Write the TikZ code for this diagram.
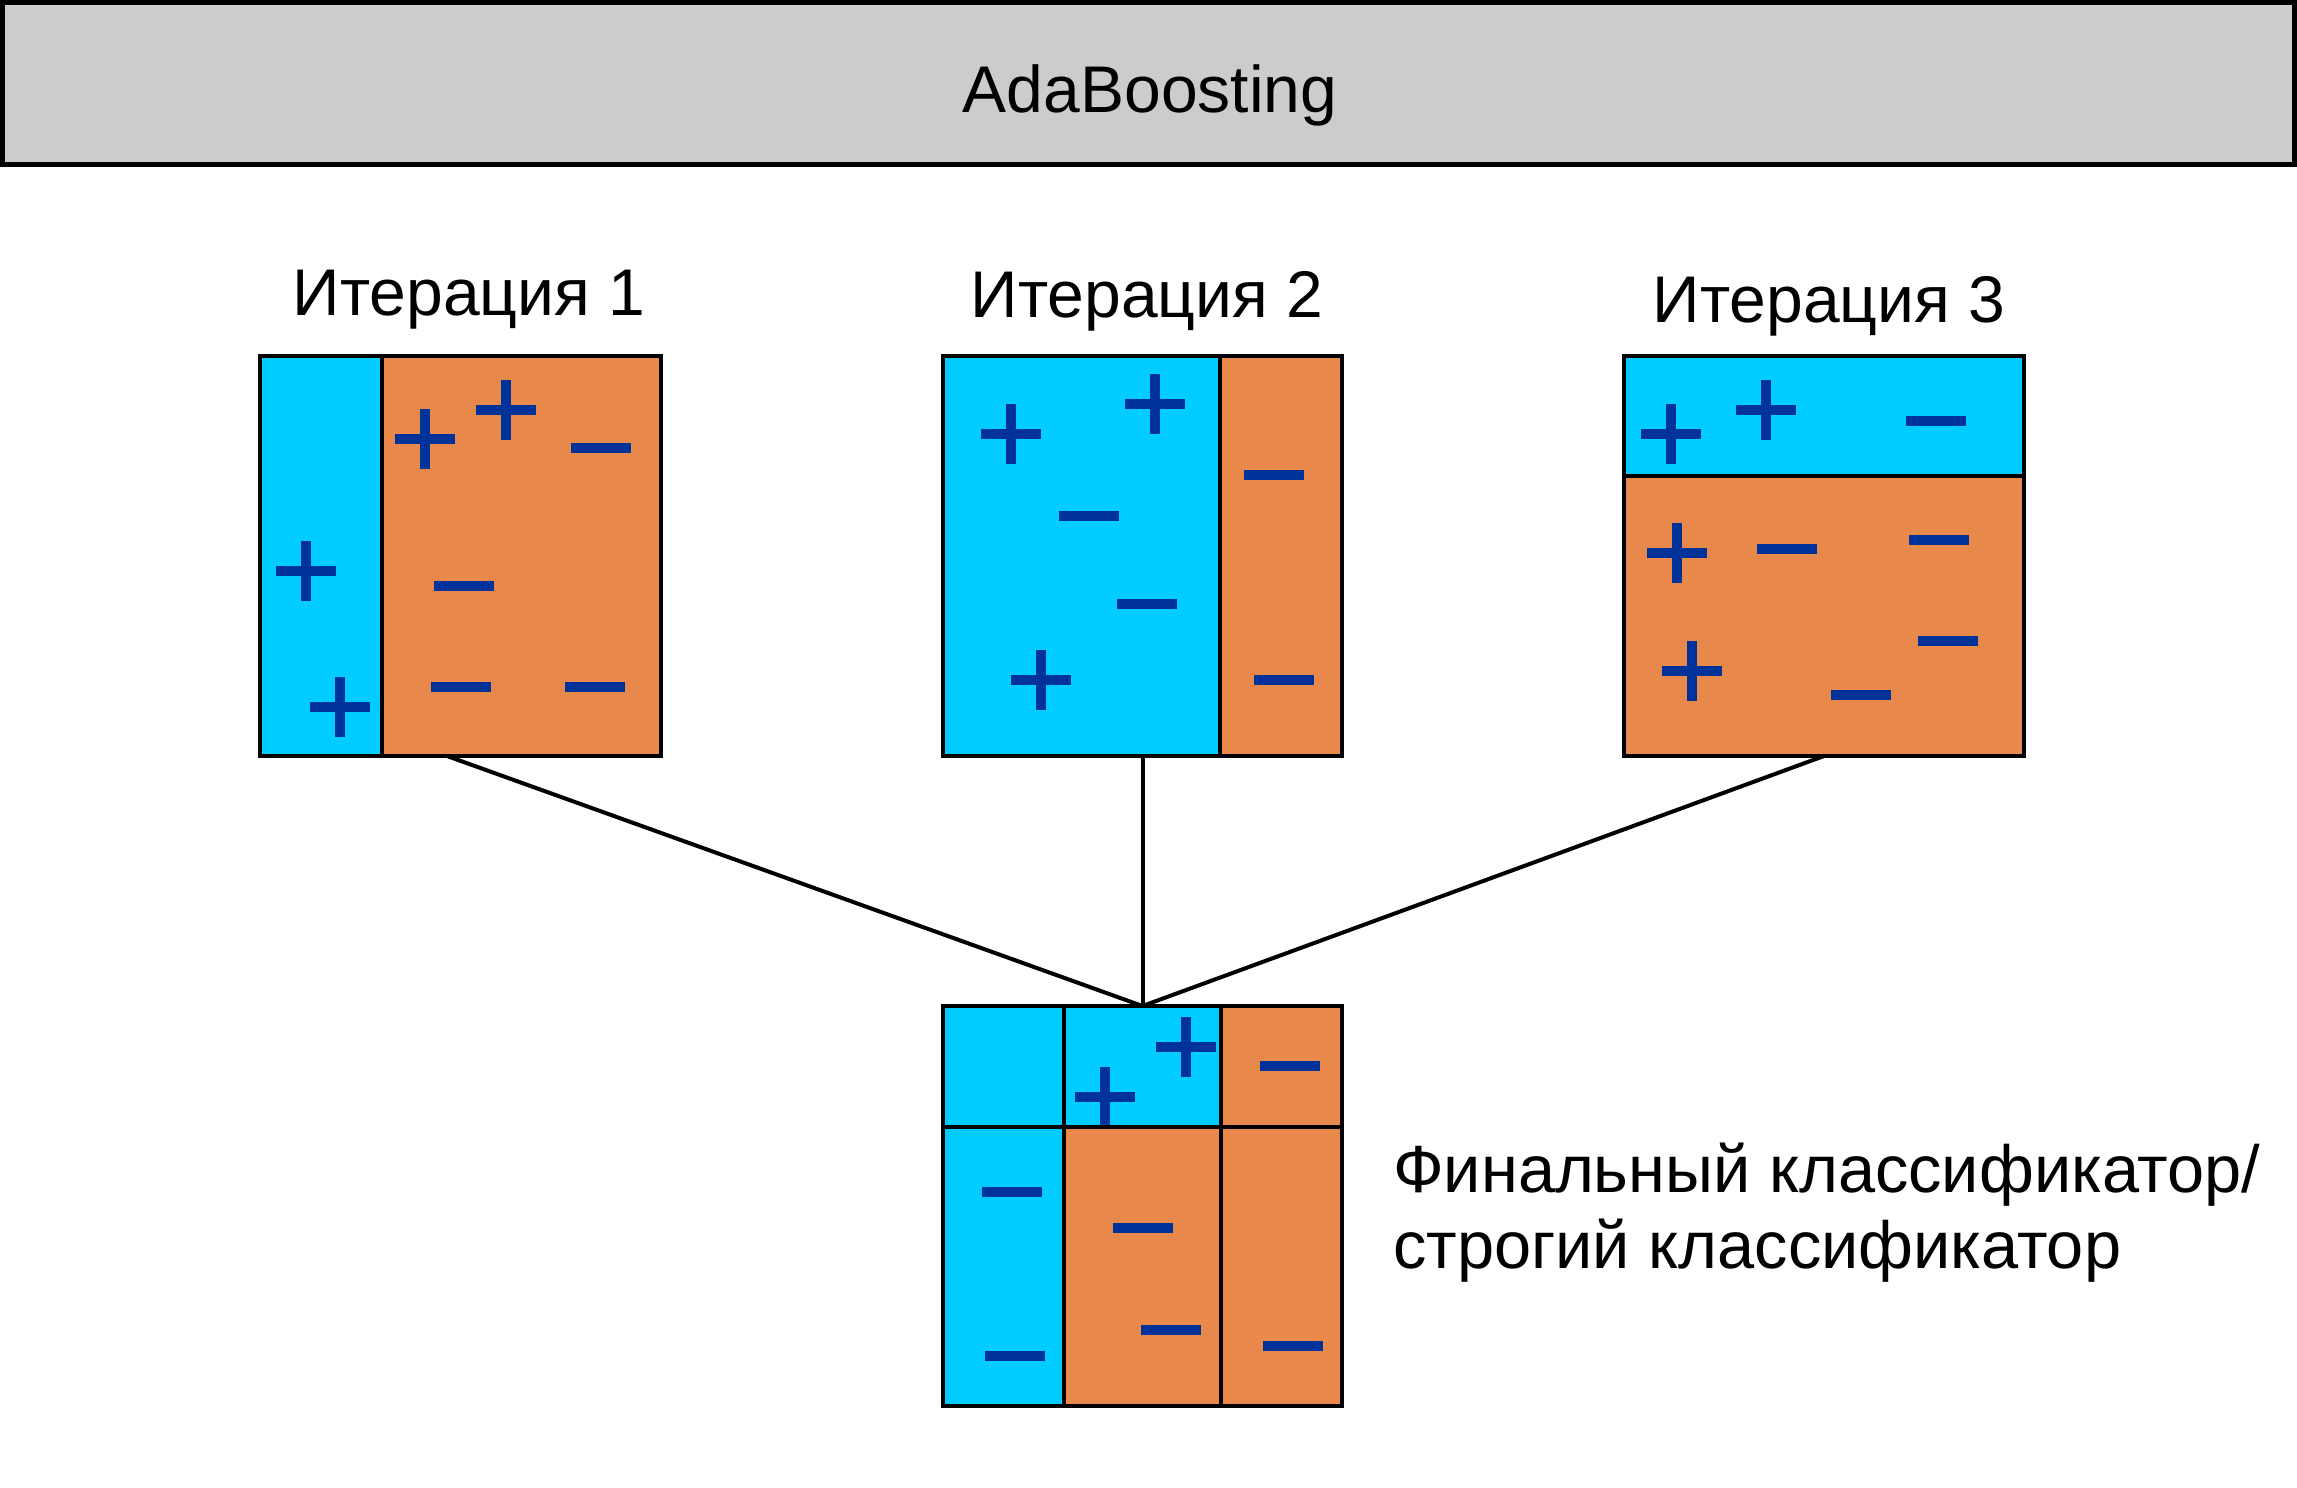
\documentclass[tikz,border=0pt]{standalone}
\usepackage{fontspec}
\setmainfont{Liberation Sans}
\definecolor{cyanf}{HTML}{00CCFF}
\definecolor{orangef}{HTML}{E8884A}
\definecolor{signblue}{HTML}{003399}
\definecolor{titlegray}{HTML}{CCCCCC}
\tikzset{
  frame/.style={draw=black, line width=4.5pt, inner sep=0pt, outer sep=0pt, fill=none},
  divider/.style={draw=black, line width=4.5pt},
  conn/.style={draw=black, line width=4pt},
  lbl/.style={inner sep=0pt, font=\fontsize{66}{79}\selectfont},
  biglbl/.style={inner sep=0pt, font=\fontsize{66.7}{79}\selectfont},
  psign/.pic={\fill[signblue] (-30,-5) rectangle (30,5); \fill[signblue] (-5,-30) rectangle (5,30);},
  msign/.pic={\fill[signblue] (-30,-5) rectangle (30,5);}
}
\begin{document}
\begin{tikzpicture}[x=1pt,y=-1pt]
\useasboundingbox (0,0) rectangle (2297,1488);
% title
\node[frame, fill=titlegray, line width=5pt, minimum width=2291.5pt, minimum height=162pt] (title) at (1148.25,83.5) {};
\node[lbl, anchor=base] (ttl) at (1150,112) {AdaBoosting};

% iteration labels
\node[lbl, anchor=base] (l1) at (469,315) {Итерация 1};
\node[lbl, anchor=base] (l2) at (1147,317) {Итерация 2};
\node[lbl, anchor=base] (l3) at (1829,322) {Итерация 3};

% box 1
\fill[cyanf] (260,356) rectangle (382,756);
\fill[orangef] (382,356) rectangle (661,756);
\draw[divider] (382,356) -- (382,756);
\node[frame, minimum width=401pt, minimum height=400pt] (it1) at (460.5,556) {};
\pic at (425,439) {psign};
\pic at (506,410) {psign};
\pic at (601,448) {msign};
\pic at (306,571) {psign};
\pic at (464,586) {msign};
\pic at (340,707) {psign};
\pic at (461,687) {msign};
\pic at (595,687) {msign};

% box 2
\fill[cyanf] (943,356) rectangle (1220,756);
\fill[orangef] (1220,356) rectangle (1342,756);
\draw[divider] (1220,356) -- (1220,756);
\node[frame, minimum width=399pt, minimum height=400pt] (it2) at (1142.5,556) {};
\pic at (1011,434) {psign};
\pic at (1155,404) {psign};
\pic at (1089,516) {msign};
\pic at (1147,604) {msign};
\pic at (1041,680) {psign};
\pic at (1274,475) {msign};
\pic at (1284,680) {msign};

% box 3
\fill[cyanf] (1624,356) rectangle (2024,476);
\fill[orangef] (1624,476) rectangle (2024,756);
\draw[divider] (1624,476) -- (2024,476);
\node[frame, minimum width=400pt, minimum height=400pt] (it3) at (1824,556) {};
\pic at (1671,434) {psign};
\pic at (1766,410) {psign};
\pic at (1936,421) {msign};
\pic at (1677,553) {psign};
\pic at (1787,549) {msign};
\pic at (1939,540) {msign};
\pic at (1692,671) {psign};
\pic at (1948,641) {msign};
\pic at (1861,695) {msign};

% final box
\fill[cyanf] (943,1006) rectangle (1221,1127);
\fill[orangef] (1221,1006) rectangle (1342,1127);
\fill[cyanf] (943,1127) rectangle (1064,1406);
\fill[orangef] (1064,1127) rectangle (1342,1406);
\pic at (1105,1097) {psign};
\pic at (1186,1047) {psign};
\pic at (1290,1066) {msign};
\pic at (1012,1192) {msign};
\pic at (1015,1356) {msign};
\pic at (1143,1228) {msign};
\pic at (1171,1330) {msign};
\pic at (1293,1346) {msign};
\draw[divider] (1064,1006) -- (1064,1406);
\draw[divider] (1221,1006) -- (1221,1406);
\draw[divider] (943,1127) -- (1342,1127);
\node[frame, minimum width=399pt, minimum height=400pt] (fin) at (1142.5,1206) {};

% final label
\node[biglbl, anchor=base west] (fl1) at (1393,1192) {Финальный классификатор/};
\node[biglbl, anchor=base west] (fl2) at (1393,1268) {строгий классификатор};

% connectors
\coordinate (c1) at (447,756);
\draw[conn] (c1) -- (fin.north);
\draw[conn] (it2.south) -- (fin.north);
\draw[conn] (it3.south) -- (fin.north);
\end{tikzpicture}
\end{document}
